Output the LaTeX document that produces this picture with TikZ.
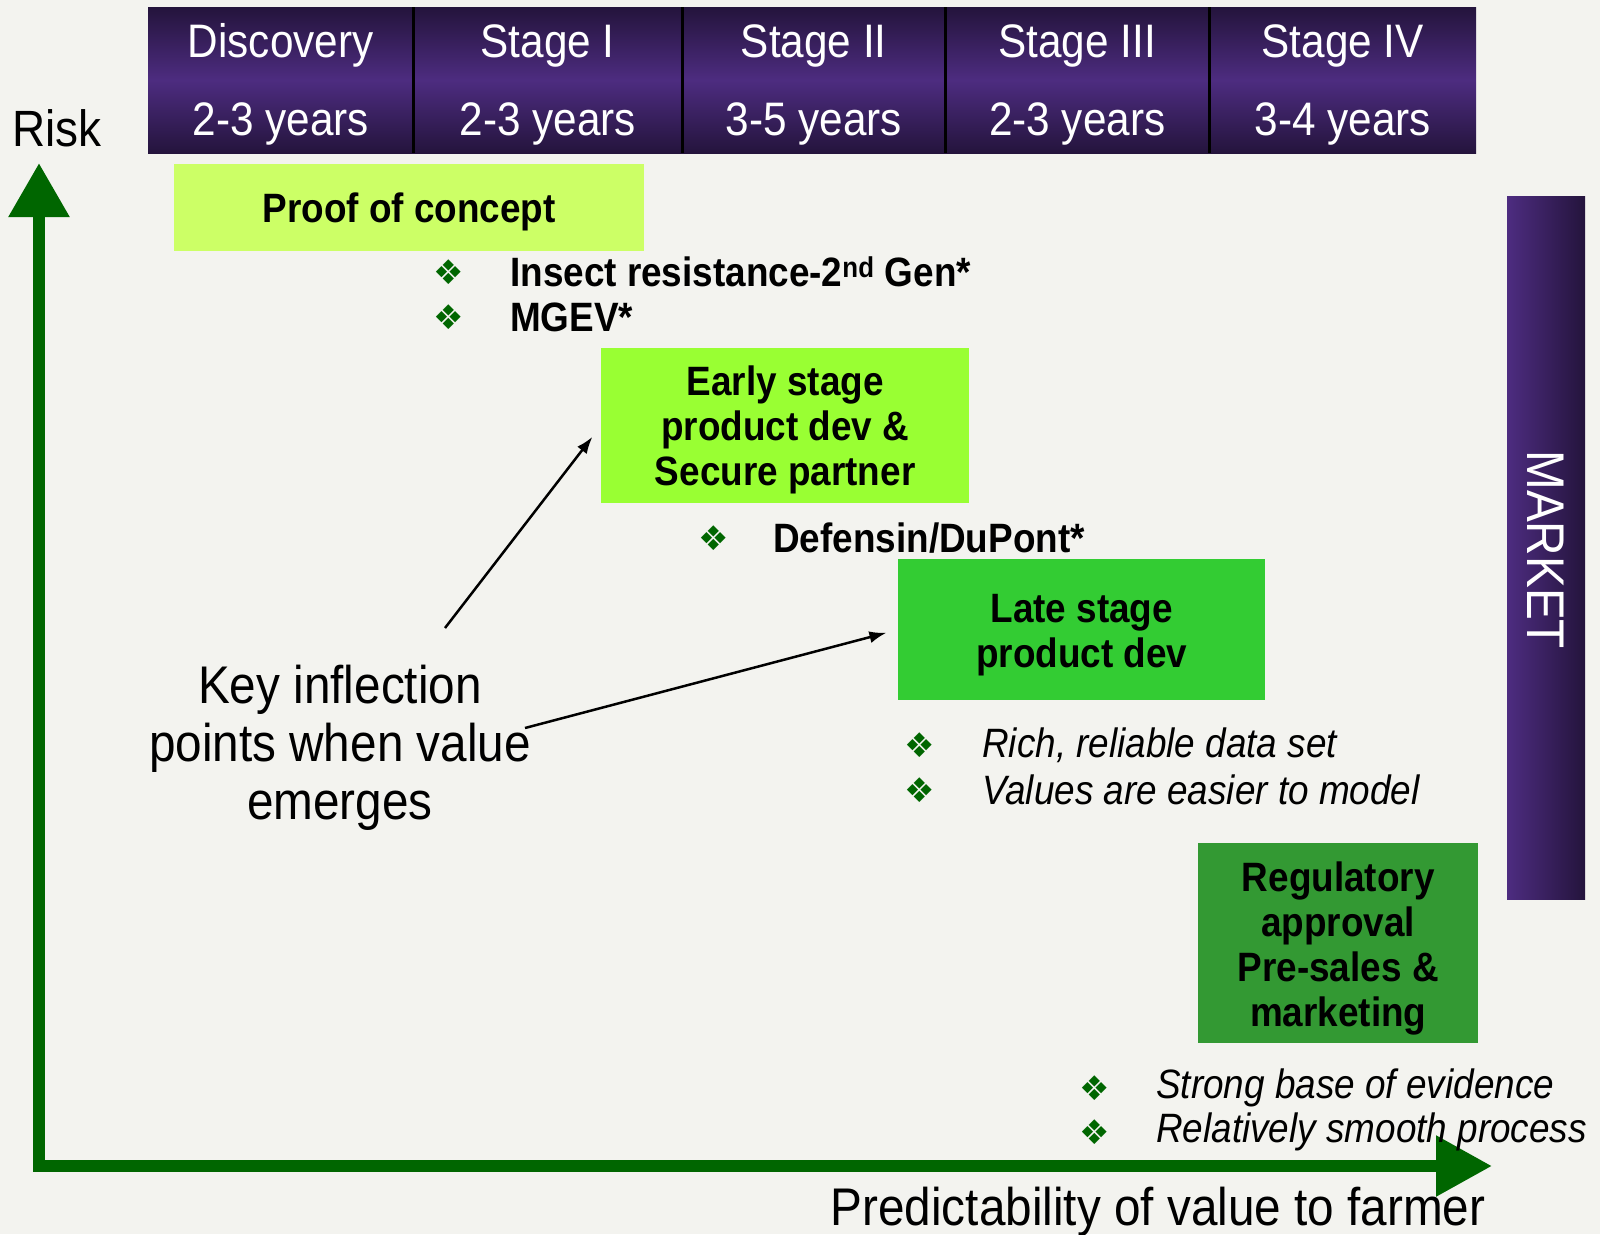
\documentclass[tikz,border=0pt]{standalone}
\usepackage{fontspec}
\setmainfont{Liberation Sans}
\newfontfamily\nar[FakeStretch=0.9]{Liberation Sans}
\newfontfamily\symfont{DejaVu Sans}
\usetikzlibrary{arrows.meta,calc}
\definecolor{bgcol}{HTML}{F3F3EF}
\definecolor{hdrdark}{HTML}{24143C}
\definecolor{hdrmid}{HTML}{4D2C80}
\definecolor{axisgreen}{HTML}{006600}
\definecolor{proofcol}{HTML}{CCFF66}
\definecolor{earlycol}{HTML}{99FF33}
\definecolor{latecol}{HTML}{33CC33}
\definecolor{regcol}{HTML}{339933}
\definecolor{bulgreen}{HTML}{006600}
\tikzset{
  hdrcell/.style={top color=hdrdark, bottom color=hdrdark, middle color=hdrmid, minimum height=146pt, inner sep=0pt, anchor=north west},
  divider/.style={draw=black, line width=3pt},
  hdrtext/.style={text=white, font=\nar\fontsize{47}{50}\selectfont, anchor=base, inner sep=0pt},
  stagebox/.style={inner sep=0pt, anchor=north west},
  boxtext/.style={font=\nar\bfseries\fontsize{41}{45}\selectfont, align=center, inner sep=0pt},
  bul/.style={text=bulgreen, font=\symfont\fontsize{34}{34}\selectfont, inner sep=0pt},
  bultext/.style={font=\nar\bfseries\fontsize{41}{45}\selectfont, anchor=west, inner sep=0pt},
  bulital/.style={font=\nar\itshape\fontsize{41}{45}\selectfont, anchor=west, inner sep=0pt},
  axisline/.style={draw=axisgreen, line width=12pt, line join=miter, {Triangle[width=58pt,length=54pt]}-{Triangle[width=58pt,length=56pt]}},
  pointer/.style={draw=black, line width=2.5pt, -{Latex[length=17pt,width=12pt]}},
  bigtext/.style={font=\nar\fontsize{53}{58}\selectfont, inner sep=0pt}
}
\begin{document}
\begin{tikzpicture}[x=1pt,y=-1pt]
\useasboundingbox (0,0) rectangle (1600,1234);
\fill[bgcol] (0,0) rectangle (1600,1234);

% header
\node[hdrcell, minimum width=265pt] (h1) at (148,7) {};
\node[hdrcell, minimum width=269pt] (h2) at (413,7) {};
\node[hdrcell, minimum width=263pt] (h3) at (682,7) {};
\node[hdrcell, minimum width=264pt] (h4) at (945,7) {};
\node[hdrcell, minimum width=267pt] (h5) at (1209,7) {};
\draw[divider] (h1.north east) -- (h1.south east);
\draw[divider] (h2.north east) -- (h2.south east);
\draw[divider] (h3.north east) -- (h3.south east);
\draw[divider] (h4.north east) -- (h4.south east);
\node[hdrtext] (h1a) at ($(h1.north)+(0,50)$) {Discovery};
\node[hdrtext] (h1b) at ($(h1.north)+(0,128)$) {2-3 years};
\node[hdrtext] (h2a) at ($(h2.north)+(0,50)$) {Stage I};
\node[hdrtext] (h2b) at ($(h2.north)+(0,128)$) {2-3 years};
\node[hdrtext] (h3a) at ($(h3.north)+(0,50)$) {Stage II};
\node[hdrtext] (h3b) at ($(h3.north)+(0,128)$) {3-5 years};
\node[hdrtext] (h4a) at ($(h4.north)+(0,50)$) {Stage III};
\node[hdrtext] (h4b) at ($(h4.north)+(0,128)$) {2-3 years};
\node[hdrtext] (h5a) at ($(h5.north)+(0,50)$) {Stage IV};
\node[hdrtext] (h5b) at ($(h5.north)+(0,128)$) {3-4 years};

% market bar
\node[left color=hdrmid, right color=hdrdark, minimum width=78pt, minimum height=703pt, inner sep=0pt, anchor=north west] (market) at (1507,196) {};
\node[rotate=-90, text=white, font=\nar\fontsize{53}{53}\selectfont, inner sep=0pt] (marketlbl) at ($(market.center)+(0,2)$) {MARKET};

% axes
\coordinate (ytip) at (39,163);
\coordinate (origin) at (39,1166);
\coordinate (xtip) at (1492,1166);
\draw[axisline] (ytip) -- (origin) -- (xtip);
\node[bigtext, font=\nar\fontsize{51}{51}\selectfont] (risk) at (57,128) {Risk};
\node[bigtext, anchor=base] (pred) at (1158,1225) {Predictability of value to farmer};

% stage boxes
\node[stagebox, fill=proofcol, minimum width=470pt, minimum height=87pt] (proof) at (174,164) {};
\node[boxtext] (prooft) at ($(proof.center)+(0,4)$) {Proof of concept};
\node[stagebox, fill=earlycol, minimum width=368pt, minimum height=155pt] (early) at (601,348) {};
\node[boxtext] (earlyt) at ($(early.center)+(0,4)$) {Early stage\\product dev \&\\Secure partner};
\node[stagebox, fill=latecol, minimum width=367pt, minimum height=141pt] (late) at (898,559) {};
\node[boxtext] (latet) at ($(late.center)+(0,5)$) {Late stage\\product dev};
\node[stagebox, fill=regcol, minimum width=280pt, minimum height=200pt] (reg) at (1198,843) {};
\node[boxtext] (regt) at ($(reg.center)+(0,5)$) {Regulatory\\approval\\Pre-sales \&\\marketing};

% bullets
\node[bul] (b1) at (449,272) {❖};
\node[bultext] (t1) at (510,272) {Insect resistance-2\textsuperscript{nd} Gen*};
\node[bul] (b2) at (449,317) {❖};
\node[bultext] (t2) at (510,317) {MGEV*};
\node[bul] (b3) at (714,538) {❖};
\node[bultext] (t3) at (773,538) {Defensin/DuPont*};
\node[bul] (b4) at (920,745) {❖};
\node[bulital] (t4) at (982,745) {Rich, reliable data set};
\node[bul] (b5) at (920,790) {❖};
\node[bulital] (t5) at (982,790) {Values are easier to model};
\node[bul] (b6) at (1095,1088) {❖};
\node[bulital] (t6) at (1156,1088) {Strong base of evidence};
\node[bul] (b7) at (1095,1132) {❖};
\node[bulital] (t7) at (1156,1132) {Relatively smooth process};

% key inflection
\node[bigtext, align=center] (key) at (340,748) {Key inflection\\points when value\\emerges};
\coordinate (k1) at (445,628);
\coordinate (k2) at (525,728);
\draw[pointer, shorten >=14pt] (k1) -- (early.west);
\draw[pointer, shorten >=12pt] (k2) -- (late.west);
\end{tikzpicture}
\end{document}
